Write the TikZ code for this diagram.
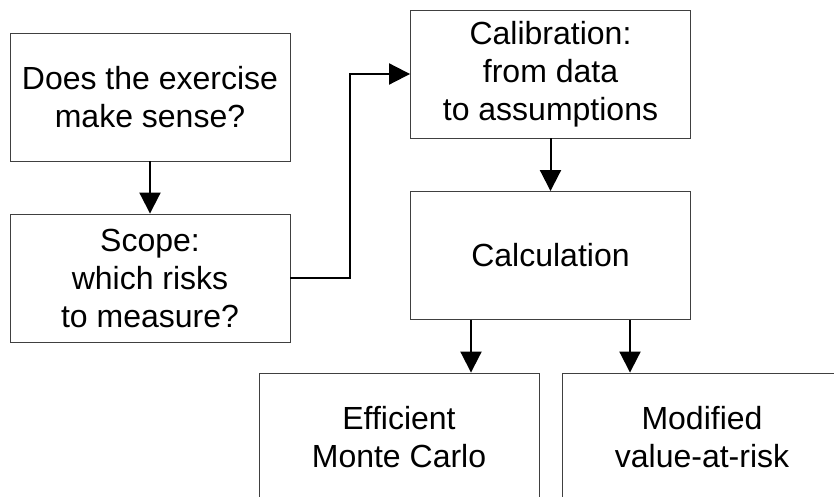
\documentclass[tikz,border=0pt]{standalone}
\usepackage{fontspec}
\setmainfont{Liberation Sans}
\usetikzlibrary{arrows.meta}

\begin{document}
\begin{tikzpicture}[x=1pt, y=-1pt]
                \useasboundingbox (0,0) rectangle (834,497);
                \begin{scope}[every node/.style = {rectangle, draw=black!75, line width=0.9pt,
                        minimum width=280pt, minimum height=128pt, inner sep=0pt,
                        align=center, font=\fontsize{32}{38}\selectfont}]
                    \node (sense) at (150, 97)      {Does the exercise\\make sense?};
                    \node (scope) at (150, 278)     {Scope:\\which risks\\to measure?};
                    \node (calib) at (550.5, 74)    {Calibration:\\from data\\to assumptions};
                    \node (calc)  at (550.5, 255.5) {Calculation};
                    \node (mc)    at (399, 437)     {Efficient\\Monte Carlo};
                    \node (mvar)  at (702, 437)     {Modified\\value-at-risk};
                \end{scope}

                \begin{scope}[>={Triangle[length=21pt, width=21pt]},
                                every path/.style={draw=black, line width=2pt}]
                     \path [->] (sense) -- (scope);
                     \path [->] (scope.east) -- ++(60,0) |- (calib.west);
                     \path [->] (calib) -- (calc);
                     \path [->] ([xshift=-79.5pt]calc.south) -- ([xshift=-79.5pt]calc.south |- mc.north);
                     \path [->] ([xshift=79.5pt]calc.south) -- ([xshift=79.5pt]calc.south |- mvar.north);
                \end{scope}
            \end{tikzpicture}
\end{document}
